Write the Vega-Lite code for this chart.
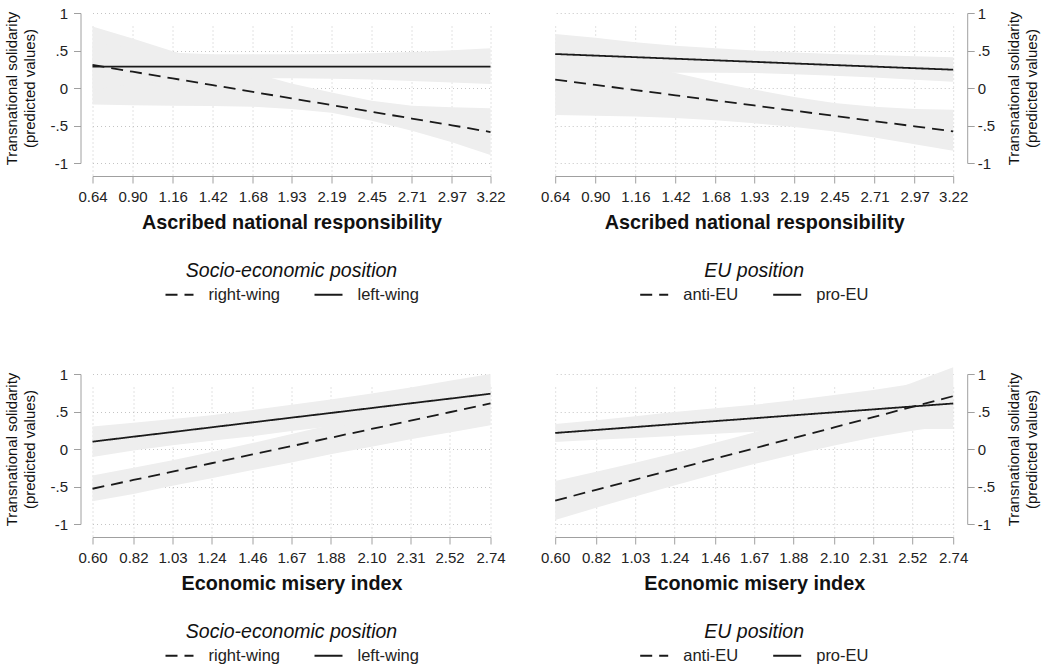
{
  "$schema": "https://vega.github.io/schema/vega-lite/v6.json",
  "background": "white",
  "padding": {"left": 4.5, "top": 6, "right": 0, "bottom": 0},
  "autosize": {"type": "pad"},
  "datasets": {
    "d": [
      {"panel": 1, "group": "right-wing", "x": 0.64, "y": 0.307, "lo": -0.22, "hi": 0.82},
      {"panel": 1, "group": "right-wing", "x": 0.90, "y": 0.217, "lo": -0.23, "hi": 0.66},
      {"panel": 1, "group": "right-wing", "x": 1.16, "y": 0.128, "lo": -0.235, "hi": 0.49},
      {"panel": 1, "group": "right-wing", "x": 1.42, "y": 0.038, "lo": -0.24, "hi": 0.34},
      {"panel": 1, "group": "right-wing", "x": 1.68, "y": -0.052, "lo": -0.25, "hi": 0.2},
      {"panel": 1, "group": "right-wing", "x": 1.93, "y": -0.138, "lo": -0.28, "hi": 0.06},
      {"panel": 1, "group": "right-wing", "x": 2.19, "y": -0.228, "lo": -0.33, "hi": -0.06},
      {"panel": 1, "group": "right-wing", "x": 2.45, "y": -0.317, "lo": -0.435, "hi": -0.17},
      {"panel": 1, "group": "right-wing", "x": 2.71, "y": -0.407, "lo": -0.57, "hi": -0.235},
      {"panel": 1, "group": "right-wing", "x": 2.97, "y": -0.497, "lo": -0.724, "hi": -0.258},
      {"panel": 1, "group": "right-wing", "x": 3.22, "y": -0.587, "lo": -0.893, "hi": -0.27},
      {"panel": 1, "group": "left-wing", "x": 0.64, "y": 0.285, "lo": -0.02, "hi": 0.6},
      {"panel": 1, "group": "left-wing", "x": 0.90, "y": 0.285, "lo": 0.05, "hi": 0.53},
      {"panel": 1, "group": "left-wing", "x": 1.16, "y": 0.285, "lo": 0.1, "hi": 0.47},
      {"panel": 1, "group": "left-wing", "x": 1.42, "y": 0.285, "lo": 0.12, "hi": 0.45},
      {"panel": 1, "group": "left-wing", "x": 1.68, "y": 0.285, "lo": 0.13, "hi": 0.45},
      {"panel": 1, "group": "left-wing", "x": 1.93, "y": 0.285, "lo": 0.13, "hi": 0.45},
      {"panel": 1, "group": "left-wing", "x": 2.19, "y": 0.285, "lo": 0.125, "hi": 0.455},
      {"panel": 1, "group": "left-wing", "x": 2.45, "y": 0.285, "lo": 0.115, "hi": 0.465},
      {"panel": 1, "group": "left-wing", "x": 2.71, "y": 0.285, "lo": 0.095, "hi": 0.48},
      {"panel": 1, "group": "left-wing", "x": 2.97, "y": 0.285, "lo": 0.075, "hi": 0.505},
      {"panel": 1, "group": "left-wing", "x": 3.22, "y": 0.285, "lo": 0.053, "hi": 0.53},

      {"panel": 2, "group": "anti-EU", "x": 0.64, "y": 0.111, "lo": -0.36, "hi": 0.58},
      {"panel": 2, "group": "anti-EU", "x": 0.90, "y": 0.042, "lo": -0.37, "hi": 0.45},
      {"panel": 2, "group": "anti-EU", "x": 1.16, "y": -0.028, "lo": -0.38, "hi": 0.32},
      {"panel": 2, "group": "anti-EU", "x": 1.42, "y": -0.097, "lo": -0.40, "hi": 0.2},
      {"panel": 2, "group": "anti-EU", "x": 1.68, "y": -0.167, "lo": -0.43, "hi": 0.08},
      {"panel": 2, "group": "anti-EU", "x": 1.93, "y": -0.233, "lo": -0.47, "hi": -0.02},
      {"panel": 2, "group": "anti-EU", "x": 2.19, "y": -0.303, "lo": -0.52, "hi": -0.12},
      {"panel": 2, "group": "anti-EU", "x": 2.45, "y": -0.372, "lo": -0.58, "hi": -0.2},
      {"panel": 2, "group": "anti-EU", "x": 2.71, "y": -0.442, "lo": -0.66, "hi": -0.25},
      {"panel": 2, "group": "anti-EU", "x": 2.97, "y": -0.511, "lo": -0.75, "hi": -0.28},
      {"panel": 2, "group": "anti-EU", "x": 3.22, "y": -0.578, "lo": -0.836, "hi": -0.29},
      {"panel": 2, "group": "pro-EU", "x": 0.64, "y": 0.453, "lo": 0.18, "hi": 0.72},
      {"panel": 2, "group": "pro-EU", "x": 0.90, "y": 0.432, "lo": 0.19, "hi": 0.67},
      {"panel": 2, "group": "pro-EU", "x": 1.16, "y": 0.411, "lo": 0.2, "hi": 0.61},
      {"panel": 2, "group": "pro-EU", "x": 1.42, "y": 0.390, "lo": 0.205, "hi": 0.565},
      {"panel": 2, "group": "pro-EU", "x": 1.68, "y": 0.369, "lo": 0.205, "hi": 0.53},
      {"panel": 2, "group": "pro-EU", "x": 1.93, "y": 0.349, "lo": 0.2, "hi": 0.5},
      {"panel": 2, "group": "pro-EU", "x": 2.19, "y": 0.327, "lo": 0.185, "hi": 0.475},
      {"panel": 2, "group": "pro-EU", "x": 2.45, "y": 0.306, "lo": 0.165, "hi": 0.455},
      {"panel": 2, "group": "pro-EU", "x": 2.71, "y": 0.285, "lo": 0.14, "hi": 0.44},
      {"panel": 2, "group": "pro-EU", "x": 2.97, "y": 0.264, "lo": 0.11, "hi": 0.425},
      {"panel": 2, "group": "pro-EU", "x": 3.22, "y": 0.244, "lo": 0.084, "hi": 0.41},

      {"panel": 3, "group": "right-wing", "x": 0.60, "y": -0.53, "lo": -0.696, "hi": -0.353},
      {"panel": 3, "group": "right-wing", "x": 0.82, "y": -0.413, "lo": -0.6, "hi": -0.25},
      {"panel": 3, "group": "right-wing", "x": 1.03, "y": -0.302, "lo": -0.49, "hi": -0.15},
      {"panel": 3, "group": "right-wing", "x": 1.24, "y": -0.19, "lo": -0.39, "hi": -0.04},
      {"panel": 3, "group": "right-wing", "x": 1.46, "y": -0.073, "lo": -0.28, "hi": 0.08},
      {"panel": 3, "group": "right-wing", "x": 1.67, "y": 0.038, "lo": -0.18, "hi": 0.2},
      {"panel": 3, "group": "right-wing", "x": 1.88, "y": 0.15, "lo": -0.07, "hi": 0.32},
      {"panel": 3, "group": "right-wing", "x": 2.10, "y": 0.267, "lo": 0.03, "hi": 0.44},
      {"panel": 3, "group": "right-wing", "x": 2.31, "y": 0.378, "lo": 0.13, "hi": 0.57},
      {"panel": 3, "group": "right-wing", "x": 2.52, "y": 0.49, "lo": 0.22, "hi": 0.71},
      {"panel": 3, "group": "right-wing", "x": 2.74, "y": 0.607, "lo": 0.317, "hi": 0.87},
      {"panel": 3, "group": "left-wing", "x": 0.60, "y": 0.098, "lo": -0.107, "hi": 0.3},
      {"panel": 3, "group": "left-wing", "x": 0.82, "y": 0.164, "lo": -0.02, "hi": 0.35},
      {"panel": 3, "group": "left-wing", "x": 1.03, "y": 0.226, "lo": 0.05, "hi": 0.4},
      {"panel": 3, "group": "left-wing", "x": 1.24, "y": 0.289, "lo": 0.11, "hi": 0.45},
      {"panel": 3, "group": "left-wing", "x": 1.46, "y": 0.355, "lo": 0.17, "hi": 0.52},
      {"panel": 3, "group": "left-wing", "x": 1.67, "y": 0.418, "lo": 0.24, "hi": 0.59},
      {"panel": 3, "group": "left-wing", "x": 1.88, "y": 0.48, "lo": 0.3, "hi": 0.66},
      {"panel": 3, "group": "left-wing", "x": 2.10, "y": 0.546, "lo": 0.35, "hi": 0.74},
      {"panel": 3, "group": "left-wing", "x": 2.31, "y": 0.609, "lo": 0.41, "hi": 0.82},
      {"panel": 3, "group": "left-wing", "x": 2.52, "y": 0.671, "lo": 0.44, "hi": 0.91},
      {"panel": 3, "group": "left-wing", "x": 2.74, "y": 0.737, "lo": 0.47, "hi": 1.0},

      {"panel": 4, "group": "anti-EU", "x": 0.60, "y": -0.688, "lo": -0.948, "hi": -0.428},
      {"panel": 4, "group": "anti-EU", "x": 0.82, "y": -0.544, "lo": -0.784, "hi": -0.304},
      {"panel": 4, "group": "anti-EU", "x": 1.03, "y": -0.408, "lo": -0.633, "hi": -0.183},
      {"panel": 4, "group": "anti-EU", "x": 1.24, "y": -0.271, "lo": -0.486, "hi": -0.056},
      {"panel": 4, "group": "anti-EU", "x": 1.46, "y": -0.128, "lo": -0.338, "hi": 0.082},
      {"panel": 4, "group": "anti-EU", "x": 1.67, "y": 0.009, "lo": -0.201, "hi": 0.219},
      {"panel": 4, "group": "anti-EU", "x": 1.88, "y": 0.145, "lo": -0.075, "hi": 0.365},
      {"panel": 4, "group": "anti-EU", "x": 2.10, "y": 0.288, "lo": 0.048, "hi": 0.528},
      {"panel": 4, "group": "anti-EU", "x": 2.31, "y": 0.425, "lo": 0.155, "hi": 0.695},
      {"panel": 4, "group": "anti-EU", "x": 2.52, "y": 0.562, "lo": 0.242, "hi": 0.882},
      {"panel": 4, "group": "anti-EU", "x": 2.74, "y": 0.705, "lo": 0.32, "hi": 1.09},
      {"panel": 4, "group": "pro-EU", "x": 0.60, "y": 0.214, "lo": 0.094, "hi": 0.334},
      {"panel": 4, "group": "pro-EU", "x": 0.82, "y": 0.254, "lo": 0.124, "hi": 0.384},
      {"panel": 4, "group": "pro-EU", "x": 1.03, "y": 0.293, "lo": 0.148, "hi": 0.438},
      {"panel": 4, "group": "pro-EU", "x": 1.24, "y": 0.332, "lo": 0.172, "hi": 0.492},
      {"panel": 4, "group": "pro-EU", "x": 1.46, "y": 0.372, "lo": 0.202, "hi": 0.542},
      {"panel": 4, "group": "pro-EU", "x": 1.67, "y": 0.41, "lo": 0.23, "hi": 0.59},
      {"panel": 4, "group": "pro-EU", "x": 1.88, "y": 0.449, "lo": 0.249, "hi": 0.649},
      {"panel": 4, "group": "pro-EU", "x": 2.10, "y": 0.489, "lo": 0.259, "hi": 0.719},
      {"panel": 4, "group": "pro-EU", "x": 2.31, "y": 0.528, "lo": 0.268, "hi": 0.788},
      {"panel": 4, "group": "pro-EU", "x": 2.52, "y": 0.567, "lo": 0.267, "hi": 0.867},
      {"panel": 4, "group": "pro-EU", "x": 2.74, "y": 0.607, "lo": 0.267, "hi": 0.947}
    ]
  },
  "columns": 2,
  "spacing": {"row": 211, "column": 64.7},
  "bounds": "flush",
  "resolve": {
    "scale": {"x": "independent", "y": "independent", "strokeDash": "independent"},
    "axis": {"x": "independent", "y": "independent"},
    "legend": {"strokeDash": "independent"}
  },
  "concat": [
    {
      "width": 398, "height": 150,
      "data": {"name": "d"},
      "transform": [{"filter": "datum.panel == 1"}],
      "encoding": {
        "x": {"field": "x", "type": "quantitative",
          "scale": {"domain": [0.64, 3.22], "nice": false, "zero": false},
          "axis": {"values": [0.64, 0.90, 1.16, 1.42, 1.68, 1.93, 2.19, 2.45, 2.71, 2.97, 3.22], "format": ".2f", "title": "Ascribed national responsibility"}}
      },
      "layer": [
        {"mark": {"type": "area", "color": "#eeeeee", "opacity": 1},
          "encoding": {
            "y": {"field": "lo", "type": "quantitative", "scale": {"domain": [-1, 1], "nice": false},
              "axis": {"orient": "left", "values": [-1, -0.5, 0, 0.5, 1], "labelExpr": "datum.value == 1 ? '1' : datum.value == 0.5 ? '.5' : datum.value == 0 ? '0' : datum.value == -0.5 ? '-.5' : '-1'", "title": ["Transnational solidarity", "(predicted values)"], "offset": 12, "labelPadding": 6, "titlePadding": 12}},
            "y2": {"field": "hi"},
            "detail": {"field": "group"}}},
        {"mark": {"type": "line", "color": "#1a1a1a", "strokeWidth": 1.8},
          "encoding": {
            "y": {"field": "y", "type": "quantitative",
              "axis": {"orient": "left", "values": [-1, -0.5, 0, 0.5, 1], "labelExpr": "datum.value == 1 ? '1' : datum.value == 0.5 ? '.5' : datum.value == 0 ? '0' : datum.value == -0.5 ? '-.5' : '-1'", "title": ["Transnational solidarity", "(predicted values)"], "offset": 12, "labelPadding": 6, "titlePadding": 12}},
            "strokeDash": {"field": "group", "type": "nominal",
              "scale": {"domain": ["right-wing", "left-wing"], "range": [[12, 7], [1, 0]]},
              "legend": {"title": "Socio-economic position"}}}}
      ]
    },
    {
      "width": 398, "height": 150,
      "data": {"name": "d"},
      "transform": [{"filter": "datum.panel == 2"}],
      "encoding": {
        "x": {"field": "x", "type": "quantitative",
          "scale": {"domain": [0.64, 3.22], "nice": false, "zero": false},
          "axis": {"values": [0.64, 0.90, 1.16, 1.42, 1.68, 1.93, 2.19, 2.45, 2.71, 2.97, 3.22], "format": ".2f", "title": "Ascribed national responsibility"}}
      },
      "layer": [
        {"mark": {"type": "area", "color": "#eeeeee", "opacity": 1},
          "encoding": {
            "y": {"field": "lo", "type": "quantitative", "scale": {"domain": [-1, 1], "nice": false},
              "axis": {"orient": "right", "values": [-1, -0.5, 0, 0.5, 1], "labelExpr": "datum.value == 1 ? '1' : datum.value == 0.5 ? '.5' : datum.value == 0 ? '0' : datum.value == -0.5 ? '-.5' : '-1'", "title": ["Transnational solidarity", "(predicted values)"], "offset": 14, "labelPadding": 3, "titleAngle": 270, "titleBaseline": "top", "titlePadding": -6}},
            "y2": {"field": "hi"},
            "detail": {"field": "group"}}},
        {"mark": {"type": "line", "color": "#1a1a1a", "strokeWidth": 1.8},
          "encoding": {
            "y": {"field": "y", "type": "quantitative",
              "axis": {"orient": "right", "values": [-1, -0.5, 0, 0.5, 1], "labelExpr": "datum.value == 1 ? '1' : datum.value == 0.5 ? '.5' : datum.value == 0 ? '0' : datum.value == -0.5 ? '-.5' : '-1'", "title": ["Transnational solidarity", "(predicted values)"], "offset": 14, "labelPadding": 3, "titleAngle": 270, "titleBaseline": "top", "titlePadding": -6}},
            "strokeDash": {"field": "group", "type": "nominal",
              "scale": {"domain": ["anti-EU", "pro-EU"], "range": [[12, 7], [1, 0]]},
              "legend": {"title": "EU position"}}}}
      ]
    },
    {
      "width": 398, "height": 150,
      "data": {"name": "d"},
      "transform": [{"filter": "datum.panel == 3"}],
      "encoding": {
        "x": {"field": "x", "type": "quantitative",
          "scale": {"domain": [0.60, 2.74], "nice": false, "zero": false},
          "axis": {"values": [0.60, 0.82, 1.03, 1.24, 1.46, 1.67, 1.88, 2.10, 2.31, 2.52, 2.74], "format": ".2f", "title": "Economic misery index"}}
      },
      "layer": [
        {"mark": {"type": "area", "color": "#eeeeee", "opacity": 1},
          "encoding": {
            "y": {"field": "lo", "type": "quantitative", "scale": {"domain": [-1, 1], "nice": false},
              "axis": {"orient": "left", "values": [-1, -0.5, 0, 0.5, 1], "labelExpr": "datum.value == 1 ? '1' : datum.value == 0.5 ? '.5' : datum.value == 0 ? '0' : datum.value == -0.5 ? '-.5' : '-1'", "title": ["Transnational solidarity", "(predicted values)"], "offset": 12, "labelPadding": 6, "titlePadding": 12}},
            "y2": {"field": "hi"},
            "detail": {"field": "group"}}},
        {"mark": {"type": "line", "color": "#1a1a1a", "strokeWidth": 1.8},
          "encoding": {
            "y": {"field": "y", "type": "quantitative",
              "axis": {"orient": "left", "values": [-1, -0.5, 0, 0.5, 1], "labelExpr": "datum.value == 1 ? '1' : datum.value == 0.5 ? '.5' : datum.value == 0 ? '0' : datum.value == -0.5 ? '-.5' : '-1'", "title": ["Transnational solidarity", "(predicted values)"], "offset": 12, "labelPadding": 6, "titlePadding": 12}},
            "strokeDash": {"field": "group", "type": "nominal",
              "scale": {"domain": ["right-wing", "left-wing"], "range": [[12, 7], [1, 0]]},
              "legend": {"title": "Socio-economic position"}}}}
      ]
    },
    {
      "width": 398, "height": 150,
      "data": {"name": "d"},
      "transform": [{"filter": "datum.panel == 4"}],
      "encoding": {
        "x": {"field": "x", "type": "quantitative",
          "scale": {"domain": [0.60, 2.74], "nice": false, "zero": false},
          "axis": {"values": [0.60, 0.82, 1.03, 1.24, 1.46, 1.67, 1.88, 2.10, 2.31, 2.52, 2.74], "format": ".2f", "title": "Economic misery index"}}
      },
      "layer": [
        {"mark": {"type": "area", "color": "#eeeeee", "opacity": 1},
          "encoding": {
            "y": {"field": "lo", "type": "quantitative", "scale": {"domain": [-1, 1], "nice": false},
              "axis": {"orient": "right", "values": [-1, -0.5, 0, 0.5, 1], "labelExpr": "datum.value == 1 ? '1' : datum.value == 0.5 ? '.5' : datum.value == 0 ? '0' : datum.value == -0.5 ? '-.5' : '-1'", "title": ["Transnational solidarity", "(predicted values)"], "offset": 14, "labelPadding": 3, "titleAngle": 270, "titleBaseline": "top", "titlePadding": -6}},
            "y2": {"field": "hi"},
            "detail": {"field": "group"}}},
        {"mark": {"type": "line", "color": "#1a1a1a", "strokeWidth": 1.8},
          "encoding": {
            "y": {"field": "y", "type": "quantitative",
              "axis": {"orient": "right", "values": [-1, -0.5, 0, 0.5, 1], "labelExpr": "datum.value == 1 ? '1' : datum.value == 0.5 ? '.5' : datum.value == 0 ? '0' : datum.value == -0.5 ? '-.5' : '-1'", "title": ["Transnational solidarity", "(predicted values)"], "offset": 14, "labelPadding": 3, "titleAngle": 270, "titleBaseline": "top", "titlePadding": -6}},
            "strokeDash": {"field": "group", "type": "nominal",
              "scale": {"domain": ["anti-EU", "pro-EU"], "range": [[12, 7], [1, 0]]},
              "legend": {"title": "EU position"}}}}
      ]
    }
  ],
  "config": {
    "font": "Liberation Sans",
    "view": {"stroke": null},
    "axis": {
      "domainColor": "#a0a0a0", "tickColor": "#a0a0a0", "grid": true,
      "gridColor": "#c4c4c4", "gridDash": [1, 3], "gridWidth": 1,
      "labelColor": "#222222", "titleColor": "#111111",
      "labelFont": "Liberation Sans", "titleFont": "Liberation Sans",
      "labelFontSize": 15, "labelOverlap": false, "labelFlush": false
    },
    "axisX": {"offset": 13, "tickSize": 7, "labelPadding": 6, "titlePadding": 8, "titleFontSize": 19.8, "titleFontWeight": "bold"},
    "axisY": {"tickSize": 7, "titleFontSize": 15, "titleFontWeight": "normal", "titleLineHeight": 18},
    "legend": {
      "orient": "bottom", "direction": "horizontal", "titleAnchor": "middle",
      "titleFont": "Liberation Sans", "labelFont": "Liberation Sans",
      "titleFontStyle": "italic", "titleFontWeight": "normal", "titleFontSize": 19.5, "titleColor": "#111111", "titleLimit": 600,
      "labelFontSize": 16.5, "labelColor": "#222222", "labelLimit": 300,
      "symbolType": "stroke", "symbolSize": 784, "symbolStrokeWidth": 2, "symbolStrokeColor": "#1a1a1a",
      "labelOffset": 14, "columnPadding": 30, "offset": 30, "titlePadding": -2,
      "layout": {"bottom": {"anchor": "middle"}}
    }
  }
}
